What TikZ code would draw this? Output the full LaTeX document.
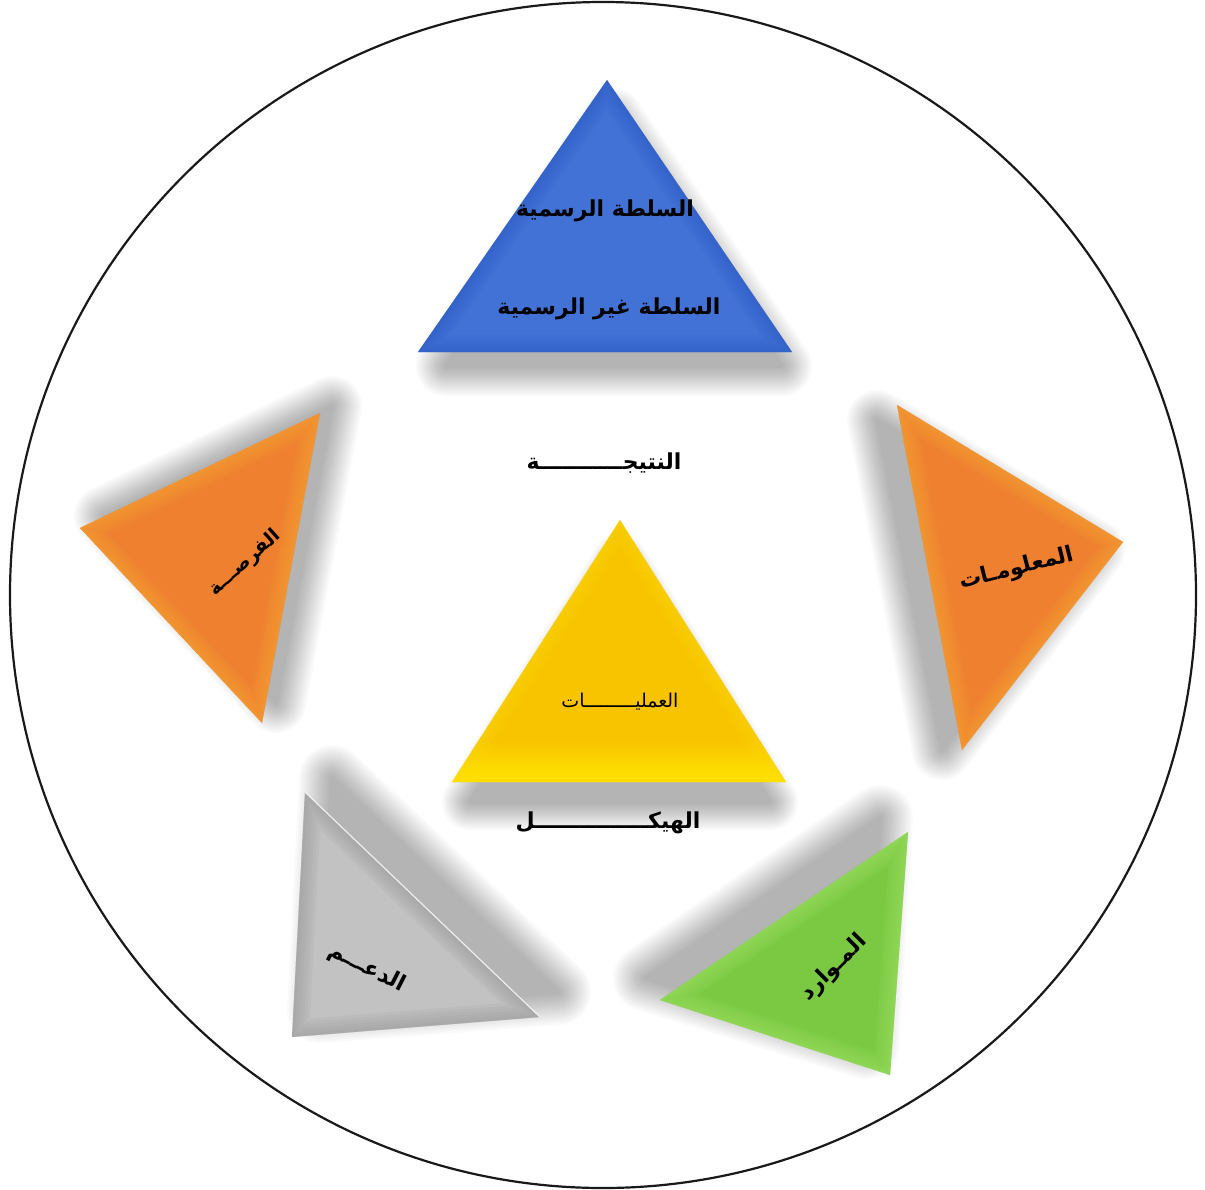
\documentclass[tikz,border=0pt]{standalone}
\usepackage{fontspec}
\newfontfamily\arabicfont[Script=Arabic]{DejaVu Sans}
\TeXXeTstate=1
\definecolor{bluemain}{HTML}{4272D6}
\definecolor{blueedge}{HTML}{2E5CC4}
\definecolor{orangemain}{HTML}{EE8030}
\definecolor{orangeedge}{HTML}{F7A635}
\definecolor{yellowtop}{HTML}{F8C400}
\definecolor{yellowbot}{HTML}{FFE600}
\definecolor{yellowedge}{HTML}{FFDA00}
\definecolor{graymain}{HTML}{C2C2C2}
\definecolor{grayedge}{HTML}{9A9A9A}
\definecolor{greenmain}{HTML}{7BC943}
\definecolor{greenedge}{HTML}{A0E262}

% soft drop shadow: #1,#2 offset, #3 blur width, #4 path
\newcommand\dropshade[4]{%
  \foreach \k in {1,...,16}{%
    \pgfmathsetmacro\lw{#3*(1-(\k-1)/16)}%
    \begin{scope}[shift={(#1,#2)}, transparency group, opacity=0.02]
      \filldraw[black, line width=\lw pt, line join=round] #4;
    \end{scope}}}

% bevelled triangle: #1 main colour, #2 edge colour, #3 path
\newcommand\beveltri[3]{%
  \fill[#1] #3;
  \begin{scope}
    \clip #3;
    \foreach \w in {34,28,22,16,10,5}{\draw[#2, line width=\w pt, opacity=0.13, line join=round] #3;}
  \end{scope}}

\tikzset{
  lbl/.style={font=\arabicfont\bfseries\fontsize{22}{26}\selectfont, text=black, inner sep=0pt},
  lblside/.style={font=\arabicfont\bfseries\fontsize{22}{26}\selectfont, text=black, inner sep=0pt},
  lblsmall/.style={font=\arabicfont\bfseries\fontsize{19}{23}\selectfont, text=black, inner sep=0pt},
  lblplain/.style={font=\arabicfont\fontsize{19}{23}\selectfont, text=black, inner sep=0pt},
}

\begin{document}
\begin{tikzpicture}[x=1pt,y=-1pt]
\useasboundingbox (0,0) rectangle (1205,1189);
\fill[white] (0,0) rectangle (1205,1189);

% outer disc
\draw[line width=2.2pt, black!90, fill=white] (603,595) circle [radius=593];

% shadows
\dropshade{6}{18}{60}{(607,100)--(440,348)--(776,348)--cycle}
\dropshade{14}{-12}{60}{(318,418)--(90,528)--(262,715)--cycle}
\dropshade{-20}{8}{60}{(897,412)--(1115,542)--(962,742)--cycle}
\dropshade{24}{-20}{66}{(308,798)--(296,1030)--(534,1012)--cycle}
\dropshade{-22}{-22}{66}{(902,840)--(668,1000)--(888,1068)--cycle}
\dropshade{0}{22}{56}{(620,540)--(470,780)--(770,780)--cycle}

% triangles
\beveltri{bluemain}{blueedge}{(607,80)--(418,352)--(792,352)--cycle}
\beveltri{orangemain}{orangeedge}{(320,413)--(80,528)--(262,723)--cycle}
\beveltri{orangemain}{orangeedge}{(897,405)--(1123,542)--(962,750)--cycle}
\beveltri{graymain}{grayedge}{(305,792)--(292,1037)--(540,1017)--cycle}
\draw[white, line width=1.2pt, opacity=0.8] (305,792)--(540,1017);
\beveltri{greenmain}{greenedge}{(908,832)--(660,1000)--(890,1075)--cycle}

% centre triangle with vertical gradient
\begin{scope}
  \clip (620,520)--(452,782)--(786,782)--cycle;
  \fill[yellowtop] (452,520) rectangle (786,750);
  \shade[top color=yellowtop, bottom color=yellowbot] (452,740) rectangle (786,782);
  \foreach \w in {28,20,12,6}{\draw[yellowedge, line width=\w pt, opacity=0.14] (620,520)--(452,782)--(786,782)--cycle;}
\end{scope}

% labels
\node[lbl] (formal) at (605,211) {\beginR السلطة الرسمية\endR};
\node[lbl] (informal) at (609,309) {\beginR السلطة غير الرسمية\endR};
\node[lbl] (result) at (604,463) {\beginR النتيجـــــــــــة\endR};
\node[lblplain] (process) at (620,702) {\beginR العمليـــــــــات\endR};
\node[lbl] (structure) at (608,823) {\beginR الهيكـــــــــــــــل\endR};
\node[lblsmall, rotate=42] (chance) at (245,563) {\beginR الفرصـــة\endR};
\node[lblside, rotate=14] (info) at (1017,569) {\beginR المعلومـات\endR};
\node[lblside, rotate=-27] (support) at (367,968) {\beginR الدعـــم\endR};
\node[lblside, rotate=45] (resources) at (834,968) {\beginR المـوارد\endR};
\end{tikzpicture}
\end{document}
